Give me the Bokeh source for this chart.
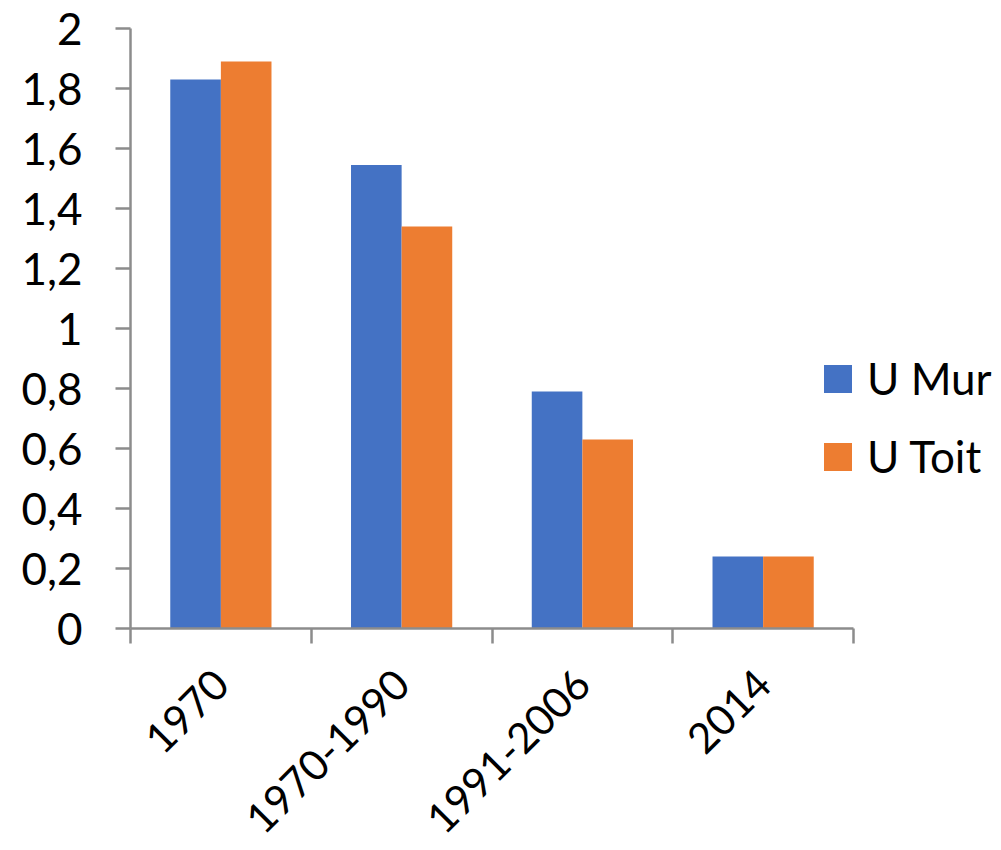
import math
from bokeh.plotting import figure
from bokeh.models import (ColumnDataSource, Range1d, FixedTicker, CustomJSTickFormatter,
                          Legend, LegendItem)
from bokeh.transform import dodge
from bokeh.embed import file_html
from bokeh.resources import INLINE

categories = ["1970", "1970-1990", "1991-2006", "2014"]
u_mur = [1.83, 1.545, 0.79, 0.24]
u_toit = [1.89, 1.34, 0.63, 0.24]
y_ticks = [0, 0.2, 0.4, 0.6, 0.8, 1.0, 1.2, 1.4, 1.6, 1.8, 2.0]
series_names = ["U Mur", "U Toit"]
colors = ["#4472C4", "#ED7D31"]

FONT = "Lato"
FS = "44px"
AXIS_COLOR = "#8c8c8c"

n = len(categories)
centers = [i + 0.5 for i in range(n)]
src = ColumnDataSource(dict(x=centers, cat=categories, mur=u_mur, toit=u_toit))

# frame spans 130..1001 px; the category axis occupies 130..853 px
x_end = n * (1001 - 130) / (853 - 130)

p = figure(width=1001, height=850, output_backend="svg", toolbar_location=None,
           x_range=Range1d(0, x_end), y_range=Range1d(0, 2),
           min_border_left=130, min_border_right=0, min_border_top=28,
           min_border_bottom=220)
p.outline_line_color = None
p.xgrid.visible = False
p.ygrid.visible = False
p.background_fill_color = "white"
p.border_fill_color = "white"

bw = 0.28
r1 = p.vbar(x=dodge("x", -bw / 2), top="mur", width=bw, source=src,
            fill_color=colors[0], line_color=None)
r2 = p.vbar(x=dodge("x", bw / 2), top="toit", width=bw, source=src,
            fill_color=colors[1], line_color=None)

# y axis
ya = p.yaxis[0]
ya.ticker = FixedTicker(ticks=y_ticks, minor_ticks=[])
ya.formatter = CustomJSTickFormatter(code="return Number(tick.toFixed(1)).toString().replace('.', ',');")
ya.axis_line_color = AXIS_COLOR
ya.axis_line_width = 2.5
ya.major_tick_line_color = AXIS_COLOR
ya.major_tick_line_width = 2.5
ya.major_tick_out = 15
ya.major_tick_in = 0
ya.minor_tick_line_color = None
ya.major_label_text_font = FONT
ya.major_label_text_font_size = FS
ya.major_label_text_color = "black"
ya.major_label_standoff = 33

# x axis
xa = p.xaxis[0]
xa.bounds = (0, n)
xa.ticker = FixedTicker(ticks=centers, minor_ticks=list(range(n + 1)))
xa.major_label_overrides = {c: lab for c, lab in zip(centers, categories)}
xa.axis_line_color = AXIS_COLOR
xa.axis_line_width = 2.5
xa.major_tick_line_color = None
xa.major_tick_out = 0
xa.major_tick_in = 0
xa.minor_tick_line_color = AXIS_COLOR
xa.minor_tick_line_width = 2.5
xa.minor_tick_out = 15
xa.minor_tick_in = 0
xa.major_label_text_font = FONT
xa.major_label_text_font_size = "42px"
xa.major_label_text_color = "black"
xa.major_label_text_line_height = 0.5
xa.major_label_orientation = math.pi / 4
xa.major_label_standoff = 33

legend = Legend(items=[LegendItem(label=series_names[0], renderers=[r1]),
                       LegendItem(label=series_names[1], renderers=[r2])],
                location=(690, 146), orientation="vertical")
legend.border_line_color = None
legend.background_fill_alpha = 0
legend.margin = 0
legend.padding = 0
legend.glyph_width = 35
legend.glyph_height = 35
legend.label_standoff = 12
legend.spacing = 26
legend.label_text_font = FONT
legend.label_text_font_size = FS
legend.label_text_color = "black"
p.add_layout(legend, "center")

open("out.html", "w").write(file_html(p, INLINE))
